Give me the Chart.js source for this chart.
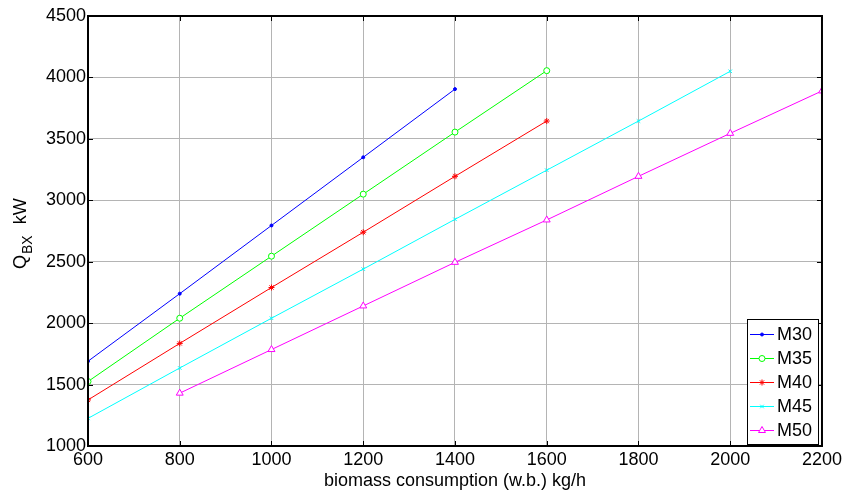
<!DOCTYPE html>
<html>
<head>
<meta charset="utf-8">
<script src="https://cdn.jsdelivr.net/npm/chart.js@4.4.1/dist/chart.umd.min.js"></script>
<style>
  html, body { margin: 0; padding: 0; background: #fff; }
  #wrap { width: 845px; height: 492px; }
</style>
</head>
<body>
<div id="wrap"><canvas id="myChart" width="845" height="492"></canvas></div>
<script>
// values
var seriesNames = ["M30", "M35", "M40", "M45", "M50"];
var xM30 = [600, 800, 1000, 1200, 1400];
var yM30 = [1690, 2240, 2795, 3350, 3905];
var xM35 = [600, 800, 1000, 1200, 1400, 1600];
var yM35 = [1525, 2040, 2545, 3050, 3555, 4055];
var xM40 = [600, 800, 1000, 1200, 1400, 1600];
var yM40 = [1375, 1835, 2290, 2740, 3195, 3645];
var xM45 = [600, 800, 1000, 1200, 1400, 1600, 1800, 2000];
var yM45 = [1225, 1635, 2040, 2440, 2845, 3245, 3645, 4050];
var xM50 = [800, 1000, 1200, 1400, 1600, 1800, 2000, 2200];
var yM50 = [1430, 1785, 2140, 2495, 2840, 3195, 3545, 3890];

var FONT = "'Liberation Sans', Arial, sans-serif";

function pts(xs, ys) {
  return xs.map(function (x, i) { return { x: x, y: ys[i] }; });
}

// y axis title with subscript
var yTitle = {
  id: "yTitle",
  afterDraw: function (chart) {
    var c = chart.ctx;
    c.save();
    c.translate(26, 269);
    c.rotate(-Math.PI / 2);
    c.fillStyle = "#000";
    c.textBaseline = "alphabetic";
    c.font = "18px " + FONT;
    c.fillText("Q", 0, 0);
    var w = c.measureText("Q").width + 1;
    c.font = "14px " + FONT;
    c.fillText("BX", w, 6);
    var w2 = c.measureText("BX").width;
    c.font = "18px " + FONT;
    c.fillText("kW", w + w2 + 11, 0);
    c.restore();
  }
};

// inward tick marks on all four sides, MATLAB style
var boxTicks = {
  id: "boxTicks",
  afterDatasetsDraw: function (chart) {
    var c = chart.ctx, a = chart.chartArea;
    var xs = chart.scales.x, ys = chart.scales.y;
    c.save();
    c.strokeStyle = "#000";
    c.lineWidth = 1;
    c.beginPath();
    xs.ticks.forEach(function (t) {
      var p = Math.round(xs.getPixelForValue(t.value)) + 0.5;
      c.moveTo(p, a.bottom); c.lineTo(p, a.bottom - 5);
      c.moveTo(p, a.top); c.lineTo(p, a.top + 5);
    });
    ys.ticks.forEach(function (t) {
      var p = Math.round(ys.getPixelForValue(t.value)) + 0.5;
      c.moveTo(a.left, p); c.lineTo(a.left + 5, p);
      c.moveTo(a.right, p); c.lineTo(a.right - 5, p);
    });
    c.stroke();
    c.lineWidth = 2;
    c.strokeRect(a.left, a.top, a.right - a.left, a.bottom - a.top);
    c.restore();
  }
};

// legend box inside the plot, lower right
var boxLegend = {
  id: "boxLegend",
  afterDraw: function (chart) {
    var c = chart.ctx;
    var left = 747, top = 319, w = 71, h = 125;
    c.save();
    c.fillStyle = "#fff";
    c.fillRect(left, top, w, h);
    c.strokeStyle = "#000";
    c.lineWidth = 1;
    c.strokeRect(left + 0.5, top + 0.5, w, h);
    chart.data.datasets.forEach(function (ds, i) {
      var y = top + 15 + i * 24;
      c.strokeStyle = ds.borderColor;
      c.lineWidth = 1;
      c.beginPath();
      c.moveTo(left + 3, y + 0.5);
      c.lineTo(left + 27, y + 0.5);
      c.stroke();
      c.fillStyle = ds.pointBackgroundColor;
      c.strokeStyle = ds.pointBorderColor;
      Chart.helpers.drawPoint(c, {
        pointStyle: ds.pointStyle,
        radius: ds.pointRadius,
        borderWidth: 1
      }, left + 15, y + 0.5);
      c.fillStyle = "#000";
      c.font = "18px " + FONT;
      c.textBaseline = "middle";
      c.fillText(ds.label, left + 30, y + 1);
    });
    c.restore();
  }
};

var colors = ["#0000ff", "#00ff00", "#ff0000", "#00ffff", "#ff00ff"];
var styles = ["circle", "circle", "star", "crossRot", "triangle"];
var radii = [1.5, 3, 3, 2.5, 4];
var fills = ["#0000ff", "#ffffff", "#ff0000", "#00ffff", "#ffffff"];
var xsAll = [xM30, xM35, xM40, xM45, xM50];
var ysAll = [yM30, yM35, yM40, yM45, yM50];

var datasets = seriesNames.map(function (name, i) {
  return {
    label: name,
    data: pts(xsAll[i], ysAll[i]),
    borderColor: colors[i],
    backgroundColor: fills[i],
    borderWidth: 1,
    pointStyle: styles[i],
    pointRadius: radii[i],
    pointBorderWidth: 1,
    pointBackgroundColor: fills[i],
    pointBorderColor: colors[i],
    tension: 0
  };
});

var plain = function (v) { return String(v); };

var ctx = document.getElementById("myChart");
var myChart = new Chart(ctx, {
  type: "line",
  data: { datasets: datasets },
  options: {
    responsive: false,
    animation: false,
    layout: { padding: { top: 16, right: 23, left: 0, bottom: 0 } },
    plugins: {
      legend: { display: false },
      tooltip: { enabled: false }
    },
    scales: {
      x: {
        type: "linear",
        min: 600,
        max: 2200,
        ticks: {
          stepSize: 200,
          color: "#000",
          font: { family: FONT, size: 18 },
          padding: 3,
          maxRotation: 0,
          callback: plain
        },
        grid: { color: "#b4b4b4", drawTicks: false },
        border: { display: false },
        title: {
          display: true,
          text: "biomass consumption (w.b.) kg/h",
          color: "#000",
          font: { family: FONT, size: 18 },
          padding: { top: -4, bottom: 0 }
        },
        afterFit: function (s) { s.height = 46; }
      },
      y: {
        min: 1000,
        max: 4500,
        ticks: {
          stepSize: 500,
          color: "#000",
          font: { family: FONT, size: 18 },
          padding: 2,
          callback: plain
        },
        grid: { color: "#b4b4b4", drawTicks: false },
        border: { display: false },
        afterFit: function (s) { s.width = 88; }
      }
    }
  },
  plugins: [boxTicks, boxLegend, yTitle]
});
</script>
</body>
</html>
